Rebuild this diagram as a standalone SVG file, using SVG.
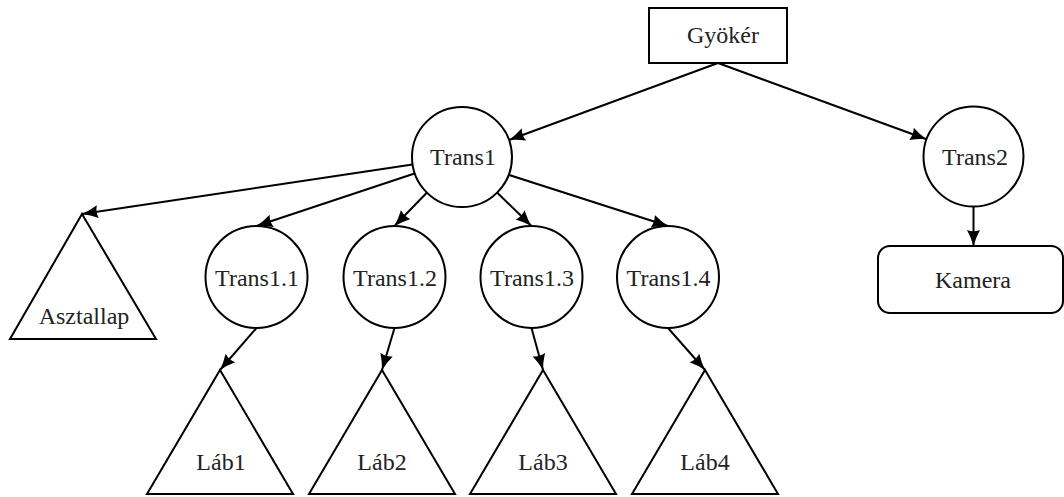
<svg xmlns="http://www.w3.org/2000/svg" width="1064" height="497" viewBox="0 0 1064 497">
<style>
.shape{fill:#fff;stroke:#000;stroke-width:2}
.lbl{font-family:"Liberation Serif","DejaVu Serif",serif;font-size:24px;fill:#222;text-anchor:middle}
.edge{stroke:#000;stroke-width:2;fill:none;marker-end:url(#arr)}
</style>
<defs>
<marker id="arr" markerUnits="userSpaceOnUse" markerWidth="18" markerHeight="14" refX="16" refY="6.5" orient="auto">
<path d="M0,0 Q8,4.3 16,6.5 Q8,8.7 0,13 Q2.5,6.5 0,0 Z" fill="#000"/>
</marker>
</defs>
<rect width="1064" height="497" fill="#fff"/>
<g id="connectors">
<line class="edge" x1="718" y1="63" x2="509" y2="140"/>
<line class="edge" x1="718" y1="63" x2="926.5" y2="139.3"/>
<line class="edge" x1="973.5" y1="206.5" x2="973.5" y2="246"/>
<line class="edge" x1="412.5" y1="164.6" x2="82" y2="214"/>
<line class="edge" x1="414.5" y1="173.5" x2="256.5" y2="226"/>
<line class="edge" x1="427" y1="192.5" x2="394.5" y2="226"/>
<line class="edge" x1="496" y1="191.5" x2="531.5" y2="226"/>
<line class="edge" x1="506" y1="174" x2="668" y2="226"/>
<line class="edge" x1="256.5" y1="328" x2="220" y2="370"/>
<line class="edge" x1="394.5" y1="328" x2="382" y2="370"/>
<line class="edge" x1="531.5" y1="328" x2="543" y2="370"/>
<line class="edge" x1="668" y1="328" x2="705" y2="370"/>
</g>
<g id="gyoker">
<rect class="shape" x="649" y="8" width="138" height="55"/>
<text class="lbl" x="723" y="43">Gyökér</text>
</g>
<g id="trans1">
<circle class="shape" cx="462" cy="157" r="50"/>
<text class="lbl" x="463" y="165">Trans1</text>
</g>
<g id="trans2">
<circle class="shape" cx="973.5" cy="156.5" r="50"/>
<text class="lbl" x="975" y="165">Trans2</text>
</g>
<g id="kamera">
<rect class="shape" x="878" y="246" width="185" height="67" rx="12" ry="12"/>
<text class="lbl" x="973" y="288">Kamera</text>
</g>
<g id="asztallap">
<polygon class="shape" points="82,214 156,339 10,339"/>
<text class="lbl" x="84" y="324">Asztallap</text>
</g>
<g id="trans1_1">
<circle class="shape" cx="256.5" cy="277" r="51"/>
<text class="lbl" x="257" y="286">Trans1.1</text>
</g>
<g id="trans1_2">
<circle class="shape" cx="394.5" cy="277" r="51"/>
<text class="lbl" x="395" y="286">Trans1.2</text>
</g>
<g id="trans1_3">
<circle class="shape" cx="531.5" cy="277" r="51"/>
<text class="lbl" x="532" y="286">Trans1.3</text>
</g>
<g id="trans1_4">
<circle class="shape" cx="668" cy="277" r="51"/>
<text class="lbl" x="668.5" y="286">Trans1.4</text>
</g>
<g id="lab1">
<polygon class="shape" points="220,370 293,494 147,494"/>
<text class="lbl" x="221" y="470">Láb1</text>
</g>
<g id="lab2">
<polygon class="shape" points="382,370 455,494 309,494"/>
<text class="lbl" x="382" y="470">Láb2</text>
</g>
<g id="lab3">
<polygon class="shape" points="543,370 616,494 470,494"/>
<text class="lbl" x="543" y="470">Láb3</text>
</g>
<g id="lab4">
<polygon class="shape" points="705,370 778,494 632,494"/>
<text class="lbl" x="705" y="470">Láb4</text>
</g>
</svg>
